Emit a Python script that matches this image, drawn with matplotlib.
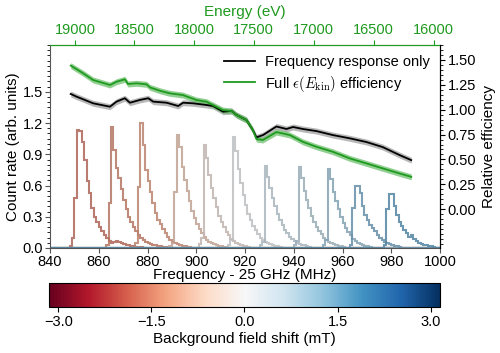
import numpy as np
import matplotlib
matplotlib.use("Agg")
import matplotlib.pyplot as plt
from matplotlib import cm, colors
from matplotlib.ticker import MultipleLocator, FuncFormatter

plt.rcParams["font.family"] = ["Liberation Sans", "DejaVu Sans"]
plt.rcParams["mathtext.fontset"] = "cm"

# Histograms: first bin edge (MHz above 25 GHz) and counts per 1 MHz bin
peakStarts = [848, 863, 875, 889, 901, 913, 926, 940, 952, 963, 977]
fieldShifts = [-1.7, -1.5, -1.3, -0.8, -0.3, 0.0, 0.5, 0.8, 1.1, 1.5, 1.7]
peakCounts = [
    [0.02, 0.10, 0.48, 1.13, 1.12, 1.02, 0.85, 0.64, 0.53, 0.38, 0.30, 0.25, 0.20, 0.16, 0.12,
     0.10, 0.07, 0.05, 0.06, 0.07, 0.06, 0.05, 0.04, 0.03, 0.03, 0.02, 0.02, 0.01, 0.01, 0.01],
    [0.03, 0.43, 1.16, 0.94, 0.77, 0.67, 0.57, 0.46, 0.37, 0.30, 0.25, 0.20, 0.16, 0.12, 0.10,
     0.08, 0.06, 0.05, 0.04, 0.03, 0.03, 0.02, 0.02, 0.01, 0.01],
    [0.05, 0.59, 1.20, 0.99, 0.75, 0.64, 0.54, 0.43, 0.34, 0.27, 0.23, 0.18, 0.14, 0.11, 0.08,
     0.06, 0.05, 0.04, 0.03, 0.02, 0.02, 0.01, 0.01],
    [0.02, 0.05, 0.54, 1.09, 0.97, 0.78, 0.65, 0.55, 0.45, 0.36, 0.29, 0.23, 0.18, 0.14, 0.11,
     0.08, 0.06, 0.05, 0.04, 0.03, 0.02, 0.02, 0.01],
    [0.04, 0.10, 0.99, 0.86, 0.70, 0.58, 0.48, 0.39, 0.31, 0.25, 0.20, 0.15, 0.12, 0.09, 0.07,
     0.05, 0.04, 0.03, 0.02, 0.02, 0.01],
    [0.03, 0.08, 1.07, 0.93, 0.76, 0.62, 0.51, 0.41, 0.33, 0.27, 0.21, 0.17, 0.13, 0.10, 0.08,
     0.06, 0.05, 0.04, 0.03, 0.02, 0.02, 0.01],
    [0.03, 0.06, 0.79, 0.68, 0.58, 0.48, 0.40, 0.33, 0.27, 0.22, 0.17, 0.14, 0.11, 0.09, 0.07,
     0.05, 0.04, 0.03, 0.03, 0.02, 0.01],
    [0.03, 0.07, 0.78, 0.67, 0.55, 0.46, 0.38, 0.31, 0.25, 0.20, 0.16, 0.13, 0.10, 0.08, 0.06,
     0.05, 0.04, 0.03, 0.02, 0.02, 0.01],
    [0.03, 0.08, 0.76, 0.66, 0.54, 0.45, 0.37, 0.30, 0.24, 0.19, 0.15, 0.12, 0.09, 0.07, 0.05,
     0.04, 0.03, 0.02, 0.02, 0.01],
    [0.03, 0.38, 0.60, 0.60, 0.53, 0.40, 0.32, 0.27, 0.22, 0.19, 0.16, 0.12, 0.10, 0.08, 0.06,
     0.05, 0.04, 0.03, 0.02, 0.02, 0.01],
    [0.03, 0.37, 0.52, 0.52, 0.40, 0.32, 0.25, 0.21, 0.17, 0.14, 0.11, 0.12, 0.09, 0.07, 0.05,
     0.04, 0.03, 0.03, 0.02, 0.02, 0.01],
]

# Relative efficiency curves
freqBlack = [848.5, 850.9, 857.7, 864.6, 867.3, 870.7, 872.8, 876.9, 880.3, 882.3, 887.8, 892.6,
             894.6, 898.7, 904.2, 906.9, 911.0, 914.5, 916.5, 920.6, 923.2, 924.7, 927.4, 932.9,
             937.0, 939.7, 943.7, 949.3, 956.0, 963.0, 969.8, 976.5, 983.4, 988.2]
effBlack = [1.158, 1.131, 1.064, 1.030, 1.081, 1.115, 1.070, 1.098, 1.115, 1.081, 1.070, 1.037,
            1.070, 1.064, 1.047, 1.037, 0.980, 0.987, 0.947, 0.896, 0.796, 0.722, 0.745, 0.831,
            0.806, 0.826, 0.806, 0.785, 0.745, 0.712, 0.675, 0.624, 0.544, 0.493]
freqGreen = [848.5, 853.6, 857.7, 864.6, 867.3, 870.7, 872.0, 875.5, 879.6, 881.0, 885.1, 889.2,
             894.5, 900.1, 904.2, 906.8, 910.9, 914.5, 916.5, 920.6, 923.2, 924.7, 927.3, 932.9,
             938.4, 943.7, 949.3, 956.0, 963.0, 969.8, 976.5, 983.4, 988.2]
effGreen = [1.443, 1.366, 1.298, 1.248, 1.281, 1.305, 1.258, 1.265, 1.255, 1.224, 1.190, 1.164,
            1.147, 1.097, 1.080, 1.047, 0.996, 0.986, 0.946, 0.896, 0.795, 0.705, 0.695, 0.775,
            0.745, 0.677, 0.627, 0.577, 0.510, 0.460, 0.410, 0.359, 0.325]
bandBlack = 0.03
bandGreen = 0.03

# Cyclotron frequency <-> kinetic energy (MHz above 25 GHz, eV)
C = 26811.4
ME = 511000.0

def freqToEnergy(f):
    return ME * (C / (25000.0 + np.asarray(f, dtype=float)) - 1.0)

def energyToFreq(e):
    return C / (1.0 + np.asarray(e, dtype=float) / ME) - 25000.0

fig = plt.figure(figsize=(5.0, 3.53), dpi=100)
ax = fig.add_axes([0.1, 0.2975, 0.78, 0.575])
cax = fig.add_axes([0.098, 0.13, 0.782, 0.068])
cax.set_zorder(-1)

cmap = plt.get_cmap("RdBu")
norm = colors.Normalize(vmin=-3.15, vmax=3.15)

edges = np.arange(840, 1001, 1)
for start, counts, shift in zip(peakStarts, peakCounts, fieldShifts):
    full = np.zeros(len(edges) - 1)
    i0 = start - 840
    full[i0:i0 + len(counts)] = counts
    c = np.array(cmap(norm(shift))[:3])
    c = 0.68 * c + 0.32 * np.array([0.28, 0.28, 0.3])
    ax.stairs(full, edges, color=c, lw=1.5, alpha=0.85)

ax.set_xlim(840, 1000)
ax.set_ylim(0, 1.95)
ax.set_xticks(np.arange(840, 1001, 20))
ax.set_yticks(np.arange(0, 1.51, 0.3))
ax.yaxis.set_minor_locator(MultipleLocator(0.05))
ax.set_xlabel("Frequency - 25 GHz (MHz)", fontsize=11, labelpad=-1)
ax.set_ylabel("Count rate (arb. units)", fontsize=11, labelpad=2)
ax.tick_params(labelsize=10.5, color="#555555", pad=1.5)
for s in ["left", "bottom"]:
    ax.spines[s].set_color("#555555")

ax2 = ax.twinx()
ax2.fill_between(freqBlack, np.array(effBlack) - bandBlack, np.array(effBlack) + bandBlack,
                 color="#888888", alpha=0.6, lw=0)
ax2.fill_between(freqGreen, np.array(effGreen) - bandGreen, np.array(effGreen) + bandGreen,
                 color="#66bb66", alpha=0.7, lw=0)
ax2.plot(freqBlack, effBlack, color="black", lw=1.3, label="Frequency response only")
ax2.plot(freqGreen, effGreen, color="#1e9a1e", lw=1.3,
         label=r"Full $\epsilon(E_{\rm kin})$ efficiency")
ax2.set_ylim(-0.39, 1.65)
ax2.set_yticks(np.arange(0, 1.51, 0.25))
ax2.yaxis.set_major_formatter(plt.FormatStrFormatter("%.2f"))
ax2.yaxis.set_minor_locator(MultipleLocator(0.05))
ax2.set_ylabel("Relative efficiency", fontsize=11, labelpad=4)
ax2.tick_params(labelsize=10.5, pad=2)
ax2.spines["top"].set_visible(False)
ax2.spines["left"].set_visible(False)
ax2.spines["bottom"].set_visible(False)
ax2.legend(loc="upper right", frameon=False, fontsize=10.5, handlelength=2.1,
           handletextpad=0.7, borderaxespad=0.3, labelspacing=0.3)

secax = ax.secondary_xaxis("top", functions=(freqToEnergy, energyToFreq))
secax.set_xticks(np.arange(19000, 15999, -500))
secax.set_xlabel("Energy (eV)", color="#1e9a1e", fontsize=11, labelpad=5)
secax.tick_params(colors="#1e9a1e", labelsize=10.5, pad=2)
secax.spines["top"].set_color("#1e9a1e")
ax.spines["top"].set_color("#1e9a1e")

sm = cm.ScalarMappable(norm=norm, cmap=cmap)
cb = fig.colorbar(sm, cax=cax, orientation="horizontal")
cb.set_ticks([-3.0, -1.5, 0.0, 1.5, 3.0])
cb.ax.xaxis.set_major_formatter(FuncFormatter(lambda v, p: ("%.1f" % v).replace("-", "\u2212")))
cb.ax.tick_params(labelsize=10.5, pad=2)
cb.set_label("Background field shift (mT)", fontsize=11, labelpad=2)

fig.savefig("out.png", dpi=100)
